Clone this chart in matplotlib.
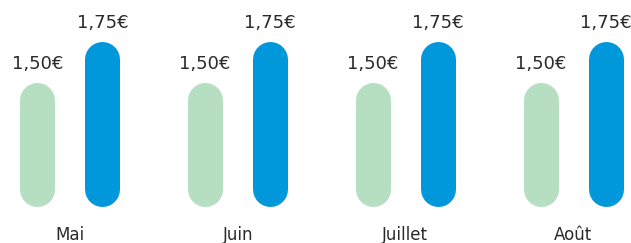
import matplotlib.pyplot as plt
import matplotlib.transforms as mtransforms

# data
months = ["Mai", "Juin", "Juillet", "Août"]
price_old = [1.50, 1.50, 1.50, 1.50]
price_new = [1.75, 1.75, 1.75, 1.75]

GREEN = "#b6dec1"
BLUE = "#0098da"
TEXT = "#2a2a2a"

W, H, DPI = 631, 243, 100
base = 0.74          # value where the bars start
px_per_unit = 164.0  # vertical scale
px_per_group = 167.67
bar_px = 35.0
off_px = 32.5

fig = plt.figure(figsize=(W / DPI, H / DPI), dpi=DPI)
ax = fig.add_axes([0, 0, 1, 1])
ax.axis("off")
ax.set_xlim(-70 / px_per_group, (W - 70) / px_per_group)
ax.set_ylim(base - 36 / px_per_unit, base + 207 / px_per_unit)

lw = bar_px * 72 / DPI
r = (bar_px / 2) / px_per_unit
dx = off_px / px_per_group

def fmt(v):
    return f"{v:.2f}".replace(".", ",") + "€"

for i in range(len(months)):
    for x, v, c in [(i - dx, price_old[i], GREEN), (i + dx, price_new[i], BLUE)]:
        ax.plot([x, x], [base + r, v - r], color=c, lw=lw,
                solid_capstyle="round")
        ax.annotate(fmt(v), (x, v), xytext=(0, 13.5 * 72 / DPI),
                    textcoords="offset points", ha="center", va="baseline",
                    fontsize=13, color=TEXT, family="DejaVu Sans")

trans = mtransforms.blended_transform_factory(ax.transData, ax.transAxes)
for i, m in enumerate(months):
    ax.text(i, 3.5 / H, m, transform=trans, ha="center", va="baseline",
            fontsize=12, color=TEXT, family="DejaVu Sans")

fig.savefig("out.png", dpi=DPI)
